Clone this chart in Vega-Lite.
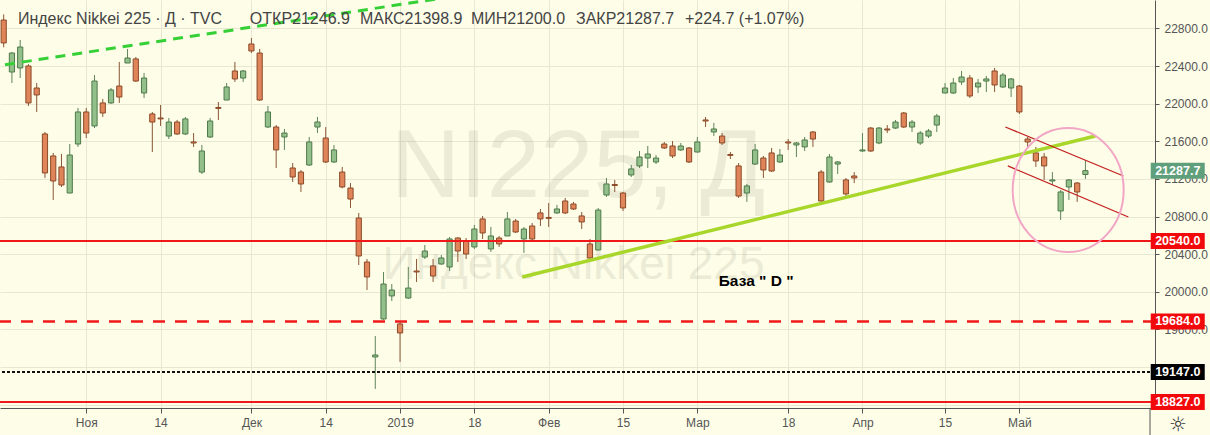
{
  "$schema": "https://vega.github.io/schema/vega-lite/v6.json",
  "width": 1155,
  "height": 408,
  "autosize": {"type": "none"},
  "padding": {"left": 0, "top": 0, "right": 55, "bottom": 27},
  "background": "#fdfde8",
  "config": {"view": {"stroke": null}, "font": "Liberation Sans"},
  "datasets": {
    "candles": [
      {"k":-1,"o":22890,"h":22950,"l":22600,"c":22646},
      {"k":0,"o":22337,"h":22550,"l":22220,"c":22539},
      {"k":1,"o":22380,"h":22678,"l":22273,"c":22603},
      {"k":2,"o":22401,"h":22420,"l":21976,"c":22008},
      {"k":3,"o":22167,"h":22220,"l":21912,"c":22093},
      {"k":4,"o":21678,"h":21699,"l":21210,"c":21263},
      {"k":5,"o":21444,"h":21476,"l":20976,"c":21178},
      {"k":6,"o":21327,"h":21465,"l":21114,"c":21135},
      {"k":7,"o":21050,"h":21571,"l":21050,"c":21454},
      {"k":8,"o":21571,"h":21955,"l":21540,"c":21912},
      {"k":9,"o":21912,"h":21955,"l":21635,"c":21688},
      {"k":10,"o":21763,"h":22305,"l":21741,"c":22241},
      {"k":11,"o":22008,"h":22050,"l":21859,"c":21901},
      {"k":12,"o":22008,"h":22167,"l":21997,"c":22146},
      {"k":13,"o":22188,"h":22444,"l":22008,"c":22071},
      {"k":14,"o":22433,"h":22582,"l":22433,"c":22486},
      {"k":15,"o":22476,"h":22497,"l":22231,"c":22241},
      {"k":16,"o":22114,"h":22327,"l":22061,"c":22273},
      {"k":17,"o":21891,"h":21912,"l":21486,"c":21805},
      {"k":18,"o":21848,"h":21986,"l":21763,"c":21838},
      {"k":19,"o":21656,"h":21848,"l":21624,"c":21805},
      {"k":20,"o":21805,"h":21827,"l":21667,"c":21678},
      {"k":21,"o":21678,"h":21859,"l":21667,"c":21838},
      {"k":22,"o":21593,"h":21688,"l":21540,"c":21582},
      {"k":23,"o":21273,"h":21561,"l":21252,"c":21497},
      {"k":24,"o":21646,"h":21848,"l":21635,"c":21816},
      {"k":25,"o":21960,"h":22018,"l":21827,"c":21950},
      {"k":26,"o":22039,"h":22220,"l":22039,"c":22178},
      {"k":27,"o":22348,"h":22444,"l":22231,"c":22263},
      {"k":28,"o":22273,"h":22359,"l":22231,"c":22348},
      {"k":29,"o":22635,"h":22699,"l":22539,"c":22561},
      {"k":30,"o":22539,"h":22582,"l":22029,"c":22039},
      {"k":31,"o":21752,"h":21976,"l":21741,"c":21912},
      {"k":32,"o":21752,"h":21773,"l":21316,"c":21508},
      {"k":33,"o":21646,"h":21731,"l":21508,"c":21688},
      {"k":34,"o":21316,"h":21369,"l":21167,"c":21220},
      {"k":35,"o":21273,"h":21295,"l":21061,"c":21146},
      {"k":36,"o":21348,"h":21646,"l":21338,"c":21593},
      {"k":37,"o":21752,"h":21859,"l":21688,"c":21805},
      {"k":38,"o":21635,"h":21752,"l":21369,"c":21380},
      {"k":39,"o":21380,"h":21561,"l":21369,"c":21508},
      {"k":40,"o":21273,"h":21327,"l":21100,"c":21114},
      {"k":41,"o":21103,"h":21156,"l":20891,"c":20986},
      {"k":42,"o":20784,"h":20838,"l":20284,"c":20380},
      {"k":43,"o":20316,"h":20348,"l":20018,"c":20157},
      {"k":44,"o":19306,"h":19529,"l":18966,"c":19327},
      {"k":45,"o":19710,"h":20210,"l":19700,"c":20082},
      {"k":46,"o":19955,"h":20082,"l":19901,"c":20018},
      {"k":47,"o":19657,"h":19678,"l":19253,"c":19561},
      {"k":48,"o":19933,"h":20263,"l":19923,"c":20039},
      {"k":49,"o":20220,"h":20348,"l":20104,"c":20210},
      {"k":50,"o":20369,"h":20497,"l":20348,"c":20433},
      {"k":51,"o":20274,"h":20348,"l":20104,"c":20167},
      {"k":52,"o":20295,"h":20391,"l":20285,"c":20359},
      {"k":53,"o":20263,"h":20582,"l":20220,"c":20561},
      {"k":54,"o":20571,"h":20582,"l":20316,"c":20433},
      {"k":55,"o":20540,"h":20571,"l":20348,"c":20401},
      {"k":56,"o":20476,"h":20710,"l":20455,"c":20667},
      {"k":57,"o":20774,"h":20806,"l":20561,"c":20625},
      {"k":58,"o":20455,"h":20689,"l":20423,"c":20593},
      {"k":59,"o":20571,"h":20593,"l":20476,"c":20508},
      {"k":60,"o":20593,"h":20848,"l":20593,"c":20774},
      {"k":61,"o":20752,"h":20774,"l":20625,"c":20635},
      {"k":62,"o":20561,"h":20689,"l":20412,"c":20667},
      {"k":63,"o":20699,"h":20731,"l":20550,"c":20561},
      {"k":64,"o":20838,"h":20880,"l":20699,"c":20774},
      {"k":65,"o":20790,"h":20944,"l":20689,"c":20780},
      {"k":66,"o":20838,"h":20923,"l":20827,"c":20880},
      {"k":67,"o":20965,"h":20997,"l":20827,"c":20838},
      {"k":68,"o":20933,"h":20955,"l":20869,"c":20880},
      {"k":69,"o":20806,"h":20848,"l":20667,"c":20742},
      {"k":70,"o":20508,"h":20561,"l":20350,"c":20359},
      {"k":71,"o":20444,"h":20891,"l":20440,"c":20869},
      {"k":72,"o":21029,"h":21210,"l":21008,"c":21146},
      {"k":73,"o":21140,"h":21189,"l":21061,"c":21130},
      {"k":74,"o":21050,"h":21061,"l":20859,"c":20891},
      {"k":75,"o":21242,"h":21348,"l":21220,"c":21306},
      {"k":76,"o":21338,"h":21497,"l":21316,"c":21433},
      {"k":77,"o":21422,"h":21550,"l":21316,"c":21465},
      {"k":78,"o":21380,"h":21454,"l":21358,"c":21422},
      {"k":79,"o":21571,"h":21593,"l":21518,"c":21529},
      {"k":80,"o":21550,"h":21603,"l":21422,"c":21444},
      {"k":81,"o":21508,"h":21582,"l":21497,"c":21550},
      {"k":82,"o":21529,"h":21540,"l":21369,"c":21380},
      {"k":83,"o":21486,"h":21646,"l":21480,"c":21593},
      {"k":84,"o":21827,"h":21859,"l":21752,"c":21816},
      {"k":85,"o":21699,"h":21795,"l":21656,"c":21731},
      {"k":86,"o":21656,"h":21688,"l":21561,"c":21582},
      {"k":87,"o":21460,"h":21486,"l":21412,"c":21450},
      {"k":88,"o":21338,"h":21369,"l":20997,"c":21018},
      {"k":89,"o":21050,"h":21146,"l":20955,"c":21125},
      {"k":90,"o":21358,"h":21571,"l":21348,"c":21508},
      {"k":91,"o":21422,"h":21444,"l":21210,"c":21295},
      {"k":92,"o":21476,"h":21529,"l":21273,"c":21284},
      {"k":93,"o":21380,"h":21518,"l":21369,"c":21454},
      {"k":94,"o":21593,"h":21624,"l":21508,"c":21582},
      {"k":95,"o":21561,"h":21593,"l":21433,"c":21582},
      {"k":96,"o":21540,"h":21646,"l":21497,"c":21614},
      {"k":97,"o":21699,"h":21710,"l":21540,"c":21624},
      {"k":98,"o":21273,"h":21295,"l":20923,"c":20965},
      {"k":99,"o":21167,"h":21465,"l":21160,"c":21433},
      {"k":100,"o":21358,"h":21390,"l":21252,"c":21380},
      {"k":101,"o":21189,"h":21210,"l":20997,"c":21040},
      {"k":102,"o":21231,"h":21273,"l":21156,"c":21210},
      {"k":103,"o":21497,"h":21688,"l":21486,"c":21508},
      {"k":104,"o":21741,"h":21752,"l":21486,"c":21497},
      {"k":105,"o":21582,"h":21752,"l":21570,"c":21741},
      {"k":106,"o":21731,"h":21773,"l":21688,"c":21720},
      {"k":107,"o":21741,"h":21827,"l":21731,"c":21805},
      {"k":108,"o":21901,"h":21912,"l":21741,"c":21752},
      {"k":109,"o":21752,"h":21827,"l":21699,"c":21805},
      {"k":110,"o":21582,"h":21710,"l":21561,"c":21688},
      {"k":111,"o":21656,"h":21731,"l":21635,"c":21710},
      {"k":112,"o":21773,"h":21891,"l":21699,"c":21869},
      {"k":113,"o":22114,"h":22220,"l":22110,"c":22167},
      {"k":114,"o":22114,"h":22273,"l":22103,"c":22220},
      {"k":115,"o":22231,"h":22348,"l":22199,"c":22284},
      {"k":116,"o":22273,"h":22305,"l":22061,"c":22082},
      {"k":117,"o":22178,"h":22263,"l":22114,"c":22220},
      {"k":118,"o":22241,"h":22295,"l":22124,"c":22263},
      {"k":119,"o":22348,"h":22380,"l":22124,"c":22199},
      {"k":120,"o":22178,"h":22327,"l":22167,"c":22305},
      {"k":121,"o":22167,"h":22273,"l":22071,"c":22263},
      {"k":122,"o":22188,"h":22199,"l":21891,"c":21912},
      {"k":123,"o":21624,"h":21646,"l":21529,"c":21593},
      {"k":124,"o":21476,"h":21540,"l":21327,"c":21391},
      {"k":125,"o":21433,"h":21476,"l":21189,"c":21338},
      {"k":126,"o":21178,"h":21273,"l":21135,"c":21189},
      {"k":127,"o":20859,"h":21082,"l":20763,"c":21061},
      {"k":128,"o":21114,"h":21199,"l":20976,"c":21189},
      {"k":129,"o":21156,"h":21167,"l":20955,"c":21061},
      {"k":130,"o":21246.9,"h":21398.9,"l":21200.0,"c":21287.7}
    ],
    "tags": [
      {"p":21287.7,"label":"21287.7","kind":"last"},
      {"p":20540,"label":"20540.0","kind":"red"},
      {"p":19684,"label":"19684.0","kind":"red"},
      {"p":19147,"label":"19147.0","kind":"black"},
      {"p":18827,"label":"18827.0","kind":"red"}
    ]
  },
  "layer": [
    {
      "data": {"values": [{"k": 68.55, "p": 21008, "t": "NI225, Д"}]},
      "mark": {"type": "text", "fontSize": 96, "align": "center", "baseline": "alphabetic", "color": "#555540", "opacity": 0.1, "font": "Liberation Sans"},
      "encoding": {
        "x": {"field": "k", "type": "quantitative", "title": null},
        "y": {"field": "p", "type": "quantitative", "title": null},
        "text": {"field": "t"}
      }
    },
    {
      "data": {"values": [{"k": 68.0, "p": 20140, "t": "Индекс Nikkei 225"}]},
      "mark": {"type": "text", "fontSize": 46, "align": "center", "baseline": "alphabetic", "color": "#555540", "opacity": 0.1, "font": "Liberation Sans"},
      "encoding": {
        "x": {"field": "k", "type": "quantitative", "title": null},
        "y": {"field": "p", "type": "quantitative", "title": null},
        "text": {"field": "t"}
      }
    },
    {
      "data": {"name": "candles"},
      "mark": {"type": "rule", "strokeWidth": 1, "clip": true},
      "encoding": {
        "x": {
          "field": "k", "type": "quantitative", "title": null,
          "scale": {"domain": [-0.84, 137.82], "nice": false, "zero": false},
          "axis": {
            "orient": "bottom",
            "values": [9, 18, 29, 38, 47, 56, 65, 74, 83, 94, 103, 113, 122],
            "labelExpr": "['Ноя','14','Дек','14','2019','18','Фев','15','Мар','18','Апр','15','Май'][indexof([9,18,29,38,47,56,65,74,83,94,103,113,122], datum.value)]",
            "grid": true, "gridColor": "#e8e8d2", "gridWidth": 1,
            "domainColor": "#555555", "tickColor": "#555555", "tickSize": 5,
            "labelColor": "#555555", "labelFontSize": 12, "labelFont": "Liberation Sans",
            "labelPadding": 4, "labelOverlap": false, "labelFlush": false
          }
        },
        "y": {
          "field": "l", "type": "quantitative", "title": null,
          "scale": {"domain": [18763, 23103], "nice": false, "zero": false},
          "axis": {
            "orient": "right",
            "values": [18800, 19200, 19600, 20000, 20400, 20800, 21200, 21600, 22000, 22400, 22800],
            "labelExpr": "datum.value == 18800 || datum.value == 19200 ? '' : format(datum.value, '.1f')",
            "grid": true, "gridColor": "#e8e8d2", "gridWidth": 1,
            "domainColor": "#555555", "tickColor": "#555555", "tickSize": 4,
            "labelColor": "#555555", "labelFontSize": 12, "labelFont": "Liberation Sans",
            "labelPadding": 5, "labelOverlap": false, "labelFlush": false
          }
        },
        "y2": {"field": "h"},
        "color": {"condition": {"test": "datum.c >= datum.o", "value": "#5e855a"}, "value": "#8a5636"}
      }
    },
    {
      "data": {"name": "candles"},
      "mark": {"type": "bar", "width": 5.2, "strokeWidth": 1, "clip": true},
      "encoding": {
        "x": {"field": "k", "type": "quantitative", "title": null},
        "y": {"field": "o", "type": "quantitative", "title": null},
        "y2": {"field": "c"},
        "fill": {"condition": {"test": "datum.c >= datum.o", "value": "#92bf8a"}, "value": "#e0845a"},
        "stroke": {"condition": {"test": "datum.c >= datum.o", "value": "#4e7a4b"}, "value": "#8b4a28"}
      }
    },
    {
      "data": {"values": [{"p": 20540}, {"p": 18827}]},
      "mark": {"type": "rule", "color": "#f01818", "strokeWidth": 2},
      "encoding": {"y": {"field": "p", "type": "quantitative", "title": null}}
    },
    {
      "data": {"values": [{"p": 19684}]},
      "mark": {"type": "rule", "color": "#f01818", "strokeWidth": 2.5, "strokeDash": [12, 10]},
      "encoding": {"y": {"field": "p", "type": "quantitative", "title": null}}
    },
    {
      "data": {"values": [{"p": 19147}]},
      "mark": {"type": "rule", "color": "#111111", "strokeWidth": 2, "strokeDash": [3, 2]},
      "encoding": {"y": {"field": "p", "type": "quantitative", "title": null}}
    },
    {
      "data": {"values": [{"k": -0.84, "p": 22415}, {"k": 59.2, "p": 23218}]},
      "mark": {"type": "line", "color": "#35d035", "strokeWidth": 3, "strokeDash": [10, 7], "clip": true},
      "encoding": {
        "x": {"field": "k", "type": "quantitative", "title": null},
        "y": {"field": "p", "type": "quantitative", "title": null}
      }
    },
    {
      "data": {"values": [{"k": 61.8, "p": 20157}, {"k": 131.2, "p": 21656}]},
      "mark": {"type": "line", "color": "#a8d62a", "strokeWidth": 3.5},
      "encoding": {
        "x": {"field": "k", "type": "quantitative", "title": null},
        "y": {"field": "p", "type": "quantitative", "title": null}
      }
    },
    {
      "data": {"values": [
        {"g": "up", "k": 120.3, "p": 21752}, {"g": "up", "k": 134.6, "p": 21231},
        {"g": "dn", "k": 120.6, "p": 21338}, {"g": "dn", "k": 135.2, "p": 20795}
      ]},
      "mark": {"type": "line", "color": "#c41e1e", "strokeWidth": 1.2},
      "encoding": {
        "x": {"field": "k", "type": "quantitative", "title": null},
        "y": {"field": "p", "type": "quantitative", "title": null},
        "detail": {"field": "g"}
      }
    },
    {
      "data": {"values": [{"k": 127.91, "p": 21082}]},
      "mark": {
        "type": "point", "filled": false, "opacity": 1, "color": "#f2a6c6", "strokeWidth": 2, "size": 12321,
        "shape": "M 1 0 C 1 0.6169 0.5523 1.117 0 1.117 C -0.5523 1.117 -1 0.6169 -1 0 C -1 -0.6169 -0.5523 -1.117 0 -1.117 C 0.5523 -1.117 1 -0.6169 1 0 Z"
      },
      "encoding": {
        "x": {"field": "k", "type": "quantitative", "title": null},
        "y": {"field": "p", "type": "quantitative", "title": null}
      }
    },
    {
      "data": {"values": [{"k": 85.59, "p": 20114, "t": "База \" D \""}]},
      "mark": {"type": "text", "fontSize": 15.5, "fontWeight": "bold", "align": "left", "baseline": "middle", "color": "#000000", "font": "Liberation Sans"},
      "encoding": {
        "x": {"field": "k", "type": "quantitative", "title": null},
        "y": {"field": "p", "type": "quantitative", "title": null},
        "text": {"field": "t"}
      }
    },
    {
      "data": {"values": [
        {"k": 0.72, "p": 22901, "t": "Индекс Nikkei 225 · Д · TVC"},
        {"k": 28.81, "p": 22901, "t": "ОТКР21246.9"},
        {"k": 42.14, "p": 22901, "t": "МАКС21398.9"},
        {"k": 55.58, "p": 22901, "t": "МИН21200.0"},
        {"k": 68.31, "p": 22901, "t": "ЗАКР21287.7"},
        {"k": 81.51, "p": 22901, "t": "+224.7 (+1.07%)"}
      ]},
      "mark": {"type": "text", "fontSize": 16, "align": "left", "baseline": "middle", "color": "#444444", "font": "Liberation Sans"},
      "encoding": {
        "x": {"field": "k", "type": "quantitative", "title": null},
        "y": {"field": "p", "type": "quantitative", "title": null},
        "text": {"field": "t"}
      }
    },
    {
      "data": {"name": "tags"},
      "mark": {
        "type": "point", "filled": true, "opacity": 1, "size": 256, "strokeWidth": 0,
        "shape": "M -3.375 -1 L 3.375 -1 L 3.375 1 L -3.375 1 Z"
      },
      "encoding": {
        "x": {"datum": 141.18},
        "y": {"field": "p", "type": "quantitative", "title": null},
        "color": {"field": "kind", "type": "nominal", "legend": null,
          "scale": {"domain": ["last", "red", "black"], "range": ["#5f9f7b", "#f20a0a", "#000000"]}}
      }
    },
    {
      "data": {"name": "tags"},
      "mark": {"type": "text", "fontSize": 12.5, "fontWeight": "bold", "align": "center", "baseline": "middle", "color": "#ffffff", "font": "Liberation Sans"},
      "encoding": {
        "x": {"datum": 141.18},
        "y": {"field": "p", "type": "quantitative", "title": null},
        "text": {"field": "label"}
      }
    },
    {
      "data": {"values": [{"p": 18763, "p2": 18470}]},
      "mark": {"type": "rule", "color": "#555555", "strokeWidth": 1},
      "encoding": {
        "x": {"datum": 137.82},
        "y": {"field": "p", "type": "quantitative", "title": null},
        "y2": {"field": "p2"}
      }
    },
    {
      "data": {"values": [{"p": 18582, "t": "☼"}]},
      "mark": {"type": "text", "fontSize": 20, "align": "center", "baseline": "middle", "color": "#333333", "font": "DejaVu Sans"},
      "encoding": {
        "x": {"datum": 141.2},
        "y": {"field": "p", "type": "quantitative", "title": null},
        "text": {"field": "t"}
      }
    }
  ]
}
